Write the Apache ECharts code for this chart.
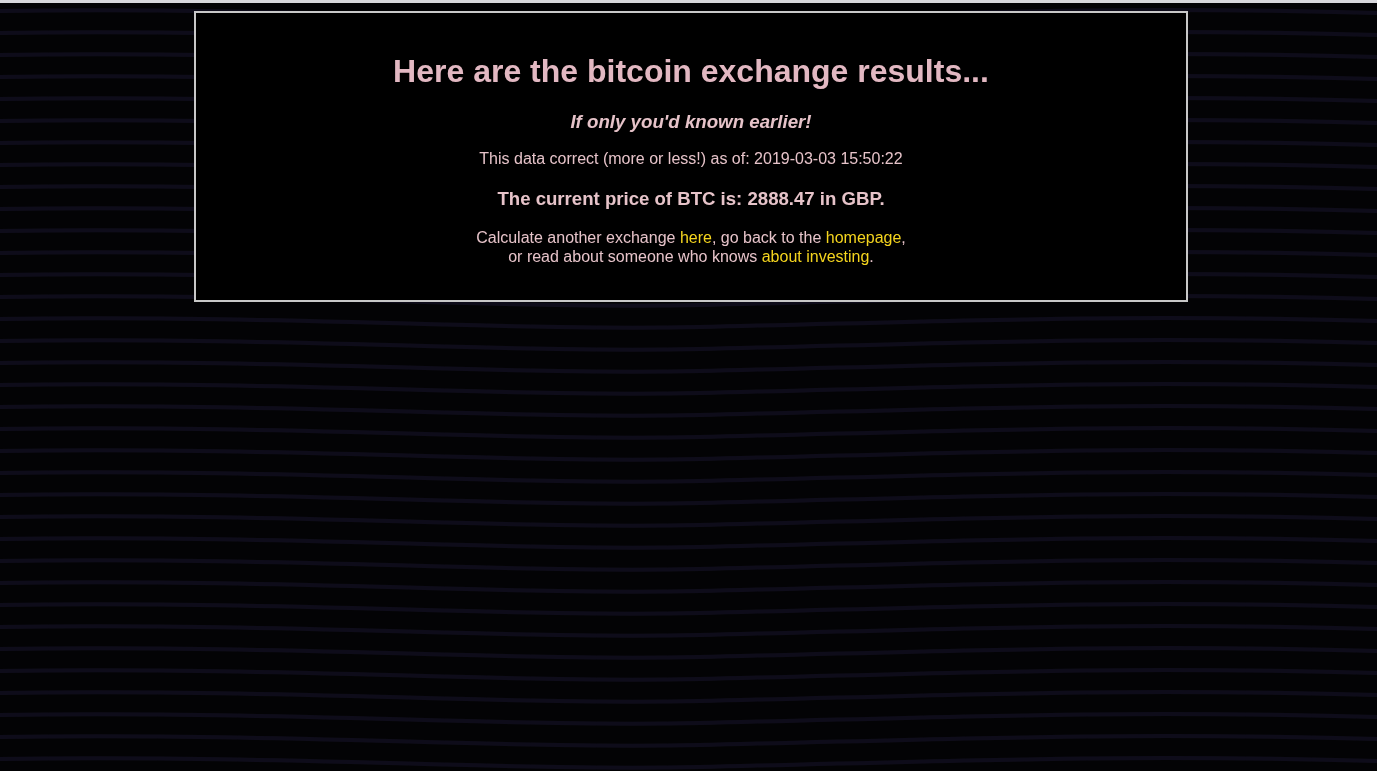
<!DOCTYPE html>
<html><head><meta charset="utf-8">
<script src="https://cdn.jsdelivr.net/npm/echarts@6/dist/echarts.min.js"></script>
<style>
html,body{margin:0;padding:0;width:1377px;height:771px;overflow:hidden;background:#030305;}
body{border-top:3px solid #d8d8dc;box-sizing:border-box;
background-image:url("data:image/svg+xml,%3Csvg xmlns='http://www.w3.org/2000/svg' width='1377' height='22'%3E%3Cpath d='M0 8 C 300 4, 500 20, 700 16 S 1100 2, 1377 10' stroke='%230e0c1a' stroke-width='4' fill='none'/%3E%3C/svg%3E");background-repeat:repeat-y;}
#c{width:1377px;height:768px;}
</style></head><body>
<div id="c"></div>
<script>
const title = "Here are the bitcoin exchange results...";
const subtitle = "If only you'd known earlier!";
const timestamp = "2019-03-03 15:50:22";
const price = "2888.47";
const currency = "GBP";
const links = ["here", "homepage", "about investing"];

const chart = echarts.init(document.getElementById('c'), null, {renderer:'canvas'});
const cx = 691, F = 'Arial, "Liberation Sans", sans-serif', pink = '#e6c3c9', yellow = '#f5d51e';
chart.setOption({
  backgroundColor: 'transparent',
  graphic: [
    {type:'rect', shape:{x:195, y:9, width:992, height:289},
     style:{fill:'#000', stroke:'#c8c8c8', lineWidth:2}},
    {type:'text', x:cx, y:70, style:{text:title, font:'bold 32px '+F, fill:'#e2b8c2', align:'center', verticalAlign:'middle'}},
    {type:'text', x:cx, y:120, style:{text:subtitle, font:'italic bold 18.7px '+F, fill:pink, align:'center', verticalAlign:'middle'}},
    {type:'text', x:cx, y:157, style:{text:'This data correct (more or less!) as of: ' + timestamp, font:'16px '+F, fill:pink, align:'center', verticalAlign:'middle'}},
    {type:'text', x:cx, y:197, style:{text:'The current price of BTC is: ' + price + ' in ' + currency + '.', font:'bold 18.6px '+F, fill:pink, align:'center', verticalAlign:'middle'}},
    {type:'text', x:cx, y:245, style:{
      text:'{p|Calculate another exchange }{y|'+links[0]+'}{p|, go back to the }{y|'+links[1]+'}{p|,}\n{p|or read about someone who knows }{y|'+links[2]+'}{p|.}',
      align:'center', verticalAlign:'middle', lineHeight:19,
      rich:{p:{font:'16px '+F, fill:pink, color:pink, lineHeight:19}, y:{font:'16px '+F, fill:yellow, color:yellow, lineHeight:19}}}}
  ]
});
</script></body></html>
